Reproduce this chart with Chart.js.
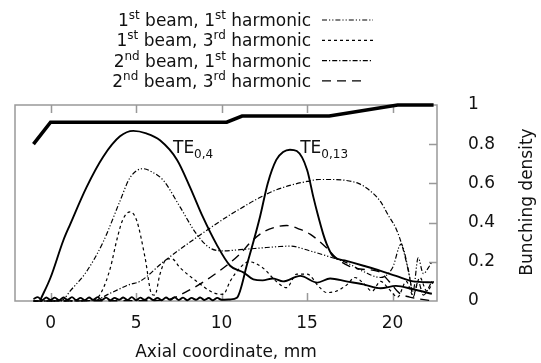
<!DOCTYPE html>
<html>
<head>
<meta charset="utf-8">
<script src="https://cdn.jsdelivr.net/npm/chart.js@4.4.0/dist/chart.umd.min.js"></script>
<style>
  html, body { margin: 0; padding: 0; background: #fff; }
  #wrap { width: 541px; height: 363px; }
</style>
</head>
<body>
<div id="wrap"><canvas id="bunching"></canvas></div>
<script>
// tick labels
const xTicks = [0, 5, 10, 15, 20];
const yTicks = [0, 0.2, 0.4, 0.6, 0.8, 1];

// thick profile line at the top
const profile = [[-1, 0.8], [0, 0.912], [10.3, 0.912], [11.2, 0.944], [16.3, 0.944], [20.3, 1.0], [22.4, 1.0]];

// TE0,4 mode
const te04 = [[-0.6, 0.005], [0, 0.12], [0.75, 0.31], [1.14, 0.39], [2.1, 0.58], [3.07, 0.735], [4.06, 0.84],
  [4.84, 0.868], [5.6, 0.855], [6.4, 0.82], [7.4, 0.72], [8.16, 0.58], [8.9, 0.43], [9.7, 0.29], [10.5, 0.18],
  [11.3, 0.145], [11.86, 0.11], [12.4, 0.105], [13.0, 0.115], [13.6, 0.1], [14.6, 0.128], [15.6, 0.094],
  [16.35, 0.115], [17.3, 0.1], [18.3, 0.085], [19.3, 0.065], [20.2, 0.077], [21.2, 0.06], [22.3, 0.037]];

// TE0,13 mode
const te013 = [[-1, 0.01], [-0.75, 0.02], [-0.5, 0.004], [-0.25, 0.018], [0, 0.005], [0.25, 0.017], [0.5, 0.004],
  [0.75, 0.018], [1, 0.006], [1.25, 0.02], [1.5, 0.005], [1.75, 0.016], [2, 0.004], [2.25, 0.018], [2.5, 0.006],
  [2.75, 0.02], [3, 0.005], [3.25, 0.017], [3.5, 0.004], [3.75, 0.016], [4, 0.006], [4.25, 0.018], [4.5, 0.005],
  [4.75, 0.02], [5, 0.004], [5.25, 0.017], [5.5, 0.006], [5.75, 0.018], [6, 0.005], [6.25, 0.016], [6.5, 0.004],
  [6.75, 0.018], [7, 0.006], [7.25, 0.02], [7.5, 0.005], [7.75, 0.017], [8, 0.004], [8.25, 0.016], [8.5, 0.006],
  [8.75, 0.018], [9, 0.005], [9.25, 0.015], [9.5, 0.004], [9.75, 0.016], [10, 0.006], [10.5, 0.008],
  [10.9, 0.017], [11.5, 0.19], [12.25, 0.43], [12.7, 0.6], [13.2, 0.72], [13.6, 0.76],
  [14.0, 0.772], [14.4, 0.765], [15.0, 0.67], [15.37, 0.53], [15.6, 0.45], [15.95, 0.34], [16.15, 0.29],
  [16.5, 0.23], [17.3, 0.205], [18.3, 0.18], [19.3, 0.154], [20.2, 0.128], [21.2, 0.1], [22.4, 0.095]];

// 1st beam, 1st harmonic
const b1h1 = [[-1, 0], [0.5, 0.002], [0.75, 0.008], [1.14, 0.05], [2.1, 0.15], [3.07, 0.3], [4.06, 0.51],
  [4.65, 0.63], [5.4, 0.675], [6.0, 0.655], [6.6, 0.615], [7.57, 0.48], [8.55, 0.34], [9.33, 0.27],
  [10.1, 0.256], [11.08, 0.262], [12.25, 0.27], [13.4, 0.278], [14.0, 0.28], [15.2, 0.255], [16.15, 0.23],
  [17.3, 0.196], [18.3, 0.15], [19.3, 0.12], [20.0, 0.17], [20.5, 0.29], [20.9, 0.17], [21.2, 0.05],
  [21.5, 0.22], [21.8, 0.14], [22.1, 0.17], [22.3, 0.2]];

// 1st beam, 3rd harmonic
const b1h3 = [[-1, 0], [2.5, 0.002], [3.0, 0.05], [3.5, 0.17], [3.87, 0.31], [4.2, 0.41], [4.65, 0.455],
  [5.04, 0.41], [5.53, 0.22], [5.92, 0.034], [6.1, 0.03], [6.4, 0.137], [6.8, 0.215], [7.1, 0.215],
  [7.57, 0.17], [8.55, 0.1], [9.5, 0.043], [10.1, 0.034], [10.5, 0.1], [11.08, 0.17], [11.6, 0.2],
  [12.4, 0.17], [13.2, 0.1], [13.8, 0.068], [14.4, 0.137], [15.0, 0.137], [15.75, 0.068], [16.15, 0.043],
  [16.7, 0.05], [17.3, 0.08], [17.8, 0.12], [18.3, 0.09], [18.8, 0.05], [19.3, 0.1], [19.8, 0.06],
  [20.3, 0.02], [20.8, 0.1], [21.2, 0.03], [21.6, 0.12], [22.0, 0.05], [22.4, 0.1]];

// 2nd beam, 1st harmonic
const b2h1 = [[-1, 0], [2.5, 0.002], [3.5, 0.04], [4.65, 0.085], [5.23, 0.1], [6.6, 0.2], [8.55, 0.325],
  [10.5, 0.44], [11.08, 0.47], [11.86, 0.51], [13.0, 0.56], [14.0, 0.59], [15.0, 0.61], [15.7, 0.62],
  [16.5, 0.62], [17.3, 0.615], [18.0, 0.6], [18.5, 0.575], [19.27, 0.51], [19.8, 0.43], [20.2, 0.37],
  [20.6, 0.27], [21.0, 0.12], [21.2, 0.02], [21.5, 0.1], [21.8, 0.03], [22.3, 0.1]];

// 2nd beam, 3rd harmonic
const b2h3 = [[-1, 0], [5, 0.002], [6.8, 0.006], [8.0, 0.05], [9.5, 0.13], [11.08, 0.24], [11.7, 0.3],
  [12.5, 0.355], [13.3, 0.38], [13.8, 0.385], [14.6, 0.365], [15.2, 0.34], [16.15, 0.27], [16.7, 0.22],
  [17.4, 0.18], [18.1, 0.163], [19.2, 0.15], [19.8, 0.1], [20.4, 0.04], [21.0, 0.02], [21.6, 0.01], [22.4, 0]];

const legendLabels = [
  ["1", "st", " beam, 1", "st", " harmonic"],
  ["1", "st", " beam, 3", "rd", " harmonic"],
  ["2", "nd", " beam, 1", "st", " harmonic"],
  ["2", "nd", " beam, 3", "rd", " harmonic"],
];
const modeLabels = [["TE", "0,4", 7.16, 0.755], ["TE", "0,13", 14.6, 0.755]];

const DASH_B1H1 = [5, 2, 1.2, 2, 1.2, 2];
const DASH_B1H3 = [3, 3];
const DASH_B2H1 = [5, 2, 1.2, 2];
const DASH_B2H3 = [9, 6];
const FONT = "DejaVu Sans";

const toXY = arr => arr.map(p => ({ x: p[0], y: p[1] }));

function curve(data, dash, width, smooth) {
  return {
    data: toXY(data),
    borderColor: "#000",
    borderWidth: width,
    borderDash: dash,
    pointRadius: 0,
    fill: false,
    tension: smooth ? 0.4 : 0,
    cubicInterpolationMode: smooth ? "monotone" : "default",
    clip: 6,
  };
}

function richText(ctx, parts, x, base, align, shift) {
  const fonts = parts.map((p, i) => (i % 2 ? "12px " : "17px ") + FONT);
  let w = 0;
  parts.forEach((p, i) => { ctx.font = fonts[i]; w += ctx.measureText(p).width; });
  let cx = align === "right" ? x - w : x;
  parts.forEach((p, i) => {
    ctx.font = fonts[i];
    ctx.fillText(p, cx, i % 2 ? base + shift : base);
    cx += ctx.measureText(p).width;
  });
}

const decor = {
  id: "decor",
  // frame and inward ticks, under the curves
  beforeDatasetsDraw(chart) {
    const { ctx, chartArea: a, scales } = chart;
    ctx.save();
    ctx.strokeStyle = "#999";
    ctx.lineWidth = 1.5;
    ctx.setLineDash([]);
    ctx.strokeRect(a.left, a.top, a.right - a.left, a.bottom - a.top);
    ctx.beginPath();
    xTicks.forEach(v => {
      const px = Math.round(scales.x.getPixelForValue(v)) + 0.5;
      ctx.moveTo(px, a.bottom); ctx.lineTo(px, a.bottom - 8);
      ctx.moveTo(px, a.top); ctx.lineTo(px, a.top + 8);
    });
    yTicks.slice(1, -1).forEach(v => {
      const py = Math.round(scales.y.getPixelForValue(v)) + 0.5;
      ctx.moveTo(a.right, py); ctx.lineTo(a.right - 8, py);
    });
    ctx.stroke();
    ctx.restore();
  },
  afterDatasetsDraw(chart) {
    const { ctx, scales } = chart;
    ctx.save();
    // legend
    ctx.fillStyle = "#111";
    ctx.textBaseline = "alphabetic";
    const dashes = [DASH_B1H1, DASH_B1H3, DASH_B2H1, DASH_B2H3];
    legendLabels.forEach((parts, i) => {
      const ly = 20 + i * 20.3;
      richText(ctx, parts, 311, ly + 6, "right", -7);
      ctx.strokeStyle = "#000";
      ctx.lineWidth = 1.2;
      ctx.setLineDash(dashes[i]);
      ctx.beginPath();
      ctx.moveTo(322, ly); ctx.lineTo(i === 3 ? 367 : 373, ly);
      ctx.stroke();
    });
    ctx.setLineDash([]);

    // mode annotations
    modeLabels.forEach(m => {
      const px = scales.x.getPixelForValue(m[2]);
      const py = scales.y.getPixelForValue(m[3]);
      richText(ctx, [m[0], m[1]], px, py, "left", 5);
    });

    // right axis title, reading upward
    ctx.font = "17px " + FONT;
    ctx.textAlign = "center";
    ctx.textBaseline = "middle";
    ctx.translate(528, 202);
    ctx.rotate(-Math.PI / 2);
    ctx.fillText("Bunching density", 0, 0);
    ctx.restore();
  },
};

new Chart(document.getElementById("bunching"), {
  type: "line",
  data: {
    datasets: [
      curve(b1h1, DASH_B1H1, 1.2, true),
      curve(b1h3, DASH_B1H3, 1.2, true),
      curve(b2h1, DASH_B2H1, 1.2, true),
      curve(b2h3, DASH_B2H3, 1.4, true),
      curve(te013, [], 1.9, true),
      curve(te04, [], 1.9, true),
      curve(profile, [], 3.6, false),
    ],
  },
  options: {
    responsive: true,
    maintainAspectRatio: false,
    animation: false,
    layout: { padding: { left: 15, top: 105, right: 0, bottom: 0 } },
    plugins: { legend: { display: false }, tooltip: { enabled: false } },
    scales: {
      x: {
        type: "linear",
        min: -2.08,
        max: 22.6,
        grid: { display: false, drawTicks: false },
        border: { display: false },
        afterBuildTicks: s => { s.ticks = xTicks.map(v => ({ value: v })); },
        afterFit: s => { s.height = 62; },
        ticks: { font: { family: FONT, size: 17 }, color: "#111", padding: 12, callback: v => String(v) },
        title: { display: true, text: "Axial coordinate, mm", font: { family: FONT, size: 17 }, color: "#111", padding: { top: 9, bottom: 0 } },
      },
      y: {
        position: "right",
        min: 0,
        max: 1,
        grid: { display: false, drawTicks: false },
        border: { display: false },
        afterBuildTicks: s => { s.ticks = yTicks.map(v => ({ value: v })); },
        afterFit: s => { s.width = 104; },
        ticks: { font: { family: FONT, size: 17 }, color: "#111", padding: 31, callback: v => String(v) },
      },
    },
  },
  plugins: [decor],
});
</script>
</body>
</html>
